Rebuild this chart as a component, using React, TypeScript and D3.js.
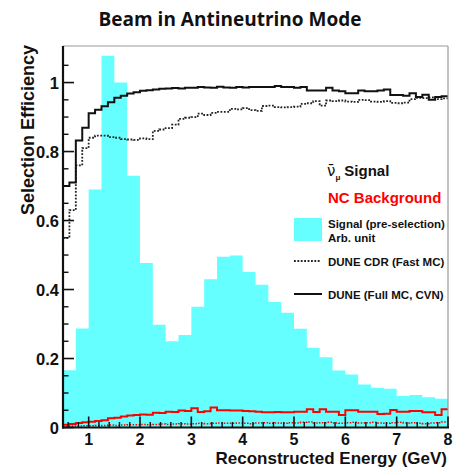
import React from 'react';
import * as d3 from 'd3';

const W = 456;
const H = 467;

const xMin = 0.5;
const xMax = 8;
const signalBinWidth = 0.25;
const effBinWidth = 0.125;

// Signal (pre-selection), arbitrary units, 0.25 GeV bins from 0.5 to 8
const signalPreSel = [
  0.166, 0.287, 0.69, 1.078, 1.0, 0.73, 0.477, 0.298, 0.25, 0.268,
  0.35, 0.43, 0.495, 0.499, 0.451, 0.414, 0.364, 0.333, 0.286, 0.231,
  0.204, 0.165, 0.154, 0.125, 0.115, 0.112, 0.091, 0.094, 0.088, 0.083,
];

// DUNE (Full MC, CVN) signal efficiency, 0.125 GeV bins
const effFullMC = [
  0.70, 0.71, 0.832, 0.869, 0.911, 0.921, 0.931, 0.943, 0.956, 0.962,
  0.968, 0.972, 0.976, 0.978, 0.98, 0.982, 0.983, 0.984, 0.983, 0.985,
  0.985, 0.987, 0.986, 0.985, 0.988, 0.986, 0.985, 0.987, 0.986, 0.987,
  0.987, 0.987, 0.987, 0.99, 0.987, 0.987, 0.985, 0.987, 0.977, 0.977,
  0.977, 0.985, 0.977, 0.975, 0.969, 0.969, 0.977, 0.975, 0.975, 0.977,
  0.98, 0.964, 0.964, 0.962, 0.969, 0.958, 0.965, 0.95, 0.958, 0.96,
];

// DUNE CDR (Fast MC) signal efficiency, 0.125 GeV bins
const effCDR = [
  0.55, 0.63, 0.76, 0.81, 0.84, 0.846, 0.846, 0.842, 0.84, 0.836,
  0.835, 0.834, 0.838, 0.836, 0.86, 0.864, 0.868, 0.878, 0.895, 0.898,
  0.9, 0.91, 0.906, 0.912, 0.915, 0.915, 0.924, 0.922, 0.926, 0.92,
  0.918, 0.932, 0.933, 0.929, 0.928, 0.929, 0.93, 0.938, 0.94, 0.946,
  0.933, 0.948, 0.946, 0.948, 0.945, 0.944, 0.95, 0.949, 0.945, 0.944,
  0.946, 0.941, 0.94, 0.942, 0.952, 0.956, 0.955, 0.957, 0.952, 0.954,
];

// NC background efficiency, DUNE (Full MC, CVN), 0.125 GeV bins
const ncFullMC = [
  0.008, 0.01, 0.013, 0.015, 0.017, 0.019, 0.021, 0.027, 0.028, 0.032,
  0.035, 0.036, 0.038, 0.037, 0.043, 0.042, 0.046, 0.045, 0.049, 0.048,
  0.056, 0.045, 0.047, 0.058, 0.05, 0.05, 0.049, 0.049, 0.048, 0.047,
  0.046, 0.044, 0.044, 0.045, 0.044, 0.044, 0.046, 0.046, 0.053, 0.045,
  0.053, 0.046, 0.046, 0.036, 0.05, 0.05, 0.046, 0.046, 0.046, 0.039,
  0.04, 0.051, 0.046, 0.046, 0.048, 0.048, 0.044, 0.044, 0.036, 0.053,
];

// NC background efficiency, DUNE CDR (Fast MC), 0.125 GeV bins
const ncCDR = [
  0.003, 0.004, 0.004, 0.005, 0.005, 0.006, 0.006, 0.007, 0.006, 0.007,
  0.008, 0.008, 0.009, 0.008, 0.009, 0.01, 0.009, 0.01, 0.011, 0.01,
  0.011, 0.012, 0.011, 0.012, 0.013, 0.012, 0.012, 0.013, 0.012, 0.011,
  0.013, 0.014, 0.012, 0.013, 0.012, 0.014, 0.013, 0.015, 0.016, 0.013,
  0.014, 0.015, 0.013, 0.012, 0.014, 0.015, 0.013, 0.014, 0.015, 0.013,
  0.012, 0.014, 0.015, 0.013, 0.014, 0.012, 0.011, 0.013, 0.014, 0.016,
];

const xTicks = [1, 2, 3, 4, 5, 6, 7, 8];
const yTicks = [0, 0.2, 0.4, 0.6, 0.8, 1];
const yTickLabels = ['0', '0.2', '0.4', '0.6', '0.8', '1'];

const title = 'Beam in Antineutrino Mode';
const xTitle = 'Reconstructed Energy (GeV)';
const yTitle = 'Selection Efficiency';

const CYAN = '#66ffff';
const RED = '#ff0000';
const FONT = '"Liberation Sans", Arial, Helvetica, sans-serif';

function stepPoints(values: number[], w: number): [number, number][] {
  const pts: [number, number][] = values.map((v, i) => [xMin + i * w, v]);
  pts.push([xMin + values.length * w, values[values.length - 1]]);
  return pts;
}

export default function App() {
  const x = d3.scaleLinear().domain([xMin, xMax]).range([63, 448]);
  const y = d3.scaleLinear().domain([0, 1.106]).range([427.5, 46]);

  const line = d3
    .line<[number, number]>()
    .x((d) => x(d[0]))
    .y((d) => y(d[1]))
    .curve(d3.curveStepAfter);

  const area = d3
    .area<[number, number]>()
    .x((d) => x(d[0]))
    .y0(y(0))
    .y1((d) => y(d[1]))
    .curve(d3.curveStepAfter);

  const [x0, x1] = x.range();
  const [yb, yt] = y.range();

  const xMinor = d3.range(0.6, 8.0001, 0.2).filter((v) => Math.abs(v - Math.round(v)) > 1e-6);
  const yMinor = d3.range(0.05, 1.1, 0.05).filter((v) => Math.abs(v * 5 - Math.round(v * 5)) > 1e-6);

  return (
    <svg width={W} height={H} style={{ position: 'absolute', left: 0, top: 0, background: '#fff' }}>
      <defs>
        <clipPath id="plot">
          <rect x={x0} y={yt} width={x1 - x0} height={yb - yt} />
        </clipPath>
      </defs>
      <rect width={W} height={H} fill="#fff" />

      <text
        x={230}
        y={26}
        textAnchor="middle"
        fontFamily='"Open Sans", sans-serif'
        fontWeight={700}
        fontSize={19}
        fill="#111"
      >
        {title}
      </text>

      <g clipPath="url(#plot)">
        <path d={area(stepPoints(signalPreSel, signalBinWidth)) || ''} fill={CYAN} stroke="none" />
        <path d={line(stepPoints(ncCDR, effBinWidth)) || ''} fill="none" stroke={RED} strokeWidth={1.5} strokeDasharray="1.5,1.5" />
        <path d={line(stepPoints(ncFullMC, effBinWidth)) || ''} fill="none" stroke={RED} strokeWidth={2} />
        <path d={line(stepPoints(effCDR, effBinWidth)) || ''} fill="none" stroke="#222" strokeWidth={1.8} strokeDasharray="1.8,1.6" />
        <path d={line(stepPoints(effFullMC, effBinWidth)) || ''} fill="none" stroke="#111" strokeWidth={2} />
      </g>

      {/* frame */}
      <line x1={x0} x2={x1} y1={yt} y2={yt} stroke="#999" strokeWidth={1.2} />
      <line x1={x1} x2={x1} y1={yt} y2={yb} stroke="#999" strokeWidth={1.2} />
      <line x1={x0} x2={x0} y1={yt} y2={yb + 1} stroke="#111" strokeWidth={2.2} />
      <line x1={x0 - 1} x2={x1 + 1} y1={yb} y2={yb} stroke="#111" strokeWidth={2.2} />

      {/* x ticks */}
      {xTicks.map((t) => (
        <line key={'xt' + t} x1={x(t)} x2={x(t)} y1={yb} y2={yb - 11} stroke="#111" strokeWidth={1.6} />
      ))}
      {xMinor.map((t, i) => (
        <line key={'xm' + i} x1={x(t)} x2={x(t)} y1={yb} y2={yb - 5.5} stroke="#111" strokeWidth={1.4} />
      ))}
      {xTicks.map((t) => (
        <text key={'xl' + t} x={x(t)} y={445} textAnchor="middle" fontFamily={FONT} fontWeight={700} fontSize={16} fill="#111">
          {t}
        </text>
      ))}

      {/* y ticks */}
      {yTicks.map((t) => (
        <line key={'yt' + t} x1={x0} x2={x0 + 11} y1={y(t)} y2={y(t)} stroke="#111" strokeWidth={1.6} />
      ))}
      {yMinor.map((t, i) => (
        <line key={'ym' + i} x1={x0} x2={x0 + 5.5} y1={y(t)} y2={y(t)} stroke="#111" strokeWidth={1.4} />
      ))}
      {yTicks.map((t, i) => (
        <text key={'yl' + t} x={59} y={y(t) + 6} textAnchor="end" fontFamily={FONT} fontWeight={700} fontSize={16.5} fill="#111">
          {yTickLabels[i]}
        </text>
      ))}

      <text x={447} y={464} textAnchor="end" fontFamily={FONT} fontWeight={700} fontSize={17} fill="#111">
        {xTitle}
      </text>
      <text
        transform={`translate(34, 130) rotate(-90)`}
        textAnchor="middle"
        fontFamily={FONT}
        fontWeight={700}
        fontSize={18}
        fill="#111"
      >
        {yTitle}
      </text>

      {/* legend */}
      <text x={327} y={176} fontFamily={FONT} fontWeight={700} fontSize={15} fill="#111">
        <tspan fontFamily='"DejaVu Sans", sans-serif' fontWeight={400}>{'\u03BD\u0304'}</tspan>
        <tspan fontSize={8} dy={4}>{'\u03BC'}</tspan>
        <tspan dx={4} dy={-4}>Signal</tspan>
      </text>
      <text x={328} y={203} fontFamily={FONT} fontWeight={700} fontSize={15} fill={RED}>
        NC Background
      </text>

      <rect x={294} y={218} width={28} height={23} fill={CYAN} />
      <text x={328} y={228} fontFamily={FONT} fontWeight={700} fontSize={11.5} fill="#111">
        Signal (pre-selection)
      </text>
      <text x={328} y={242} fontFamily={FONT} fontWeight={700} fontSize={11.5} fill="#111">
        Arb. unit
      </text>

      <line x1={294} x2={320} y1={261} y2={261} stroke="#222" strokeWidth={1.8} strokeDasharray="1.8,1.6" />
      <text x={328} y={265.5} fontFamily={FONT} fontWeight={700} fontSize={11.5} fill="#111">
        DUNE CDR (Fast MC)
      </text>

      <line x1={294} x2={322} y1={294} y2={294} stroke="#111" strokeWidth={2} />
      <text x={328} y={298.5} fontFamily={FONT} fontWeight={700} fontSize={11.5} fill="#111">
        DUNE (Full MC, CVN)
      </text>
    </svg>
  );
}
